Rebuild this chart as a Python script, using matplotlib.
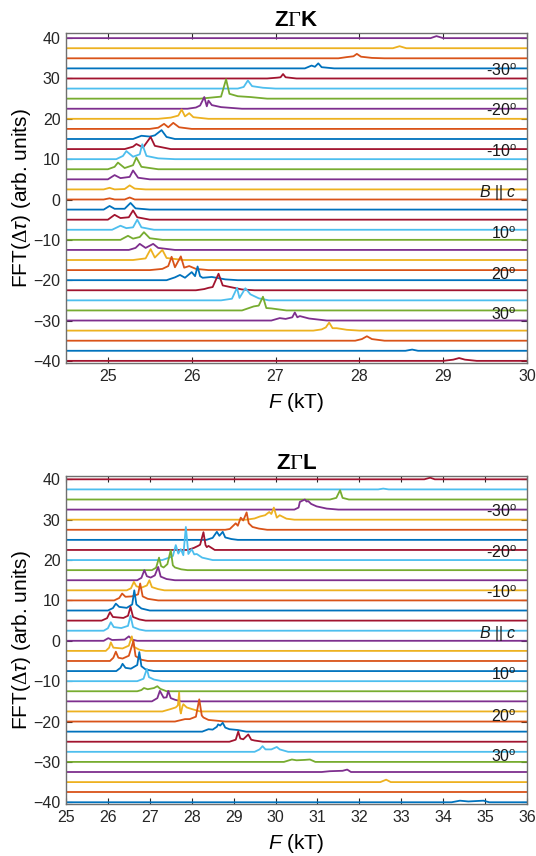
import matplotlib
matplotlib.use("Agg")
import matplotlib.pyplot as plt
import matplotlib.transforms as mtransforms

plt.rcParams['font.family'] = ['Liberation Sans', 'DejaVu Sans']
plt.rcParams['mathtext.fontset'] = 'custom'
plt.rcParams['mathtext.rm'] = 'Liberation Serif'
plt.rcParams['mathtext.it'] = 'Liberation Sans:italic'
plt.rcParams['mathtext.bf'] = 'Liberation Sans:bold'
plt.rcParams['mathtext.sf'] = 'Liberation Sans'

# ---------------- data ----------------
cycle = {'b': '#0072BD', 'o': '#D95319', 'y': '#EDB120', 'p': '#7E2F8E',
         'g': '#77AC30', 'l': '#4DBEEE', 'r': '#A2142F'}

offsets = [40, 37.5, 35, 32.5, 30, 27.5, 25, 22.5, 20, 17.5, 15, 12.5, 10, 7.5, 5, 2.5, 0,
           -2.5, -5, -7.5, -10, -12.5, -15, -17.5, -20, -22.5, -25, -27.5, -30, -32.5, -35, -37.5, -40]

top_colors = ['p', 'y', 'o', 'b', 'r', 'l', 'g', 'p', 'y', 'o', 'b', 'r', 'l', 'g', 'p', 'y', 'o',
              'b', 'r', 'l', 'g', 'p', 'y', 'o', 'b', 'r', 'l', 'g', 'p', 'y', 'o', 'b', 'r']
bot_colors = ['r', 'l', 'g', 'p', 'y', 'o', 'b', 'r', 'l', 'g', 'p', 'y', 'o', 'b', 'r', 'l', 'p',
              'y', 'o', 'b', 'l', 'g', 'p', 'y', 'o', 'b', 'r', 'l', 'g', 'p', 'y', 'o', 'b']

# peak vertices (F in kT, amplitude above each trace's baseline)
top_peaks = {
    40: [(28.85, 0), (28.92, 0.5), (29.0, 0)],
    37.5: [(28.4, 0), (28.48, 0.5), (28.56, 0)],
    35: [(27.75, 0), (27.85, 0.3), (27.93, 0.5), (27.97, 1.1), (28.02, 0.4), (28.15, 0.1), (28.3, 0)],
    32.5: [(27.35, 0), (27.43, 0.7), (27.47, 0.4), (27.51, 1.25), (27.55, 0.3), (27.7, 0)],
    30: [(26.9, 0), (27.02, 0.2), (27.06, 0.3), (27.09, 1.1), (27.12, 0.3), (27.25, 0)],
    27.5: [(26.55, 0), (26.62, 0.4), (26.67, 2.0), (26.72, 0.6), (26.85, 0.2), (27.0, 0)],
    25: [(26.1, 0), (26.25, 0.3), (26.35, 0.5), (26.41, 4.8), (26.45, 1.2), (26.55, 0.6), (26.7, 0.4), (26.9, 0)],
    22.5: [(25.95, 0), (26.05, 0.3), (26.1, 0.8), (26.15, 2.9), (26.18, 0.6), (26.2, 2.0), (26.24, 0.9),
           (26.35, 0.4), (26.6, 0)],
    20: [(25.6, 0), (25.75, 0.3), (25.84, 0.8), (25.88, 2.3), (25.92, 0.6), (25.97, 1.4), (26.02, 0.4), (26.2, 0)],
    17.5: [(25.5, 0), (25.6, 0.3), (25.67, 1.25), (25.72, 0.4), (25.78, 1.5), (25.85, 0.4), (26.0, 0)],
    15: [(25.3, 0), (25.4, 0.8), (25.5, 0.6), (25.56, 0.9), (25.64, 2.2), (25.7, 0.5), (25.8, 0)],
    12.5: [(25.2, 0), (25.3, 0.6), (25.34, 1.25), (25.42, 0.4), (25.51, 3.0), (25.56, 0.8), (25.75, 0)],
    10: [(25.1, 0), (25.18, 0.8), (25.22, 2.0), (25.3, 0.6), (25.38, 1.2), (25.41, 3.7), (25.46, 0.8),
         (25.6, 0.2), (25.8, 0)],
    7.5: [(25.0, 0), (25.08, 0.6), (25.12, 1.65), (25.2, 0.3), (25.3, 1.0), (25.34, 2.9), (25.4, 0.6), (25.6, 0)],
    5: [(25.0, 0), (25.08, 1.05), (25.15, 0.3), (25.26, 0.6), (25.30, 2.2), (25.36, 0.4), (25.5, 0)],
    2.5: [(24.95, 0), (25.02, 0.4), (25.08, 0), (25.2, 0.1), (25.26, 1.0), (25.32, 0.2), (25.45, 0)],
    0: [(24.95, 0), (25.02, 0.3), (25.08, 0), (25.2, 0), (25.26, 0.5), (25.32, 0)],
    -2.5: [(24.95, 0), (25.02, 0.9), (25.08, 0.2), (25.2, 0.2), (25.27, 1.65), (25.33, 0.3), (25.5, 0)],
    -5: [(25.0, 0), (25.08, 1.2), (25.15, 0.4), (25.25, 0.6), (25.30, 2.3), (25.35, 0.6), (25.5, 0)],
    -7.5: [(25.05, 0), (25.15, 1.0), (25.22, 0.4), (25.3, 0.6), (25.35, 2.5), (25.4, 0.6), (25.55, 0)],
    -10: [(25.15, 0), (25.24, 1.0), (25.3, 0.3), (25.38, 0.7), (25.43, 1.9), (25.5, 0.4), (25.65, 0)],
    -12.5: [(25.25, 0), (25.33, 0.5), (25.38, 1.5), (25.45, 0.5), (25.54, 1.5), (25.6, 0.5), (25.8, 0)],
    -15: [(25.3, 0), (25.45, 0.4), (25.51, 2.7), (25.56, 0.6), (25.65, 2.5), (25.7, 0.5), (25.9, 0)],
    -17.5: [(25.5, 0), (25.65, 0.3), (25.72, 1.0), (25.76, 3.3), (25.8, 0.7), (25.87, 3.4), (25.91, 0.6),
            (25.97, 1.0), (26.05, 0.3), (26.2, 0)],
    -20: [(25.7, 0), (25.8, 0.7), (25.86, 1.3), (25.92, 0.6), (26.0, 2.0), (26.04, 1.0), (26.07, 3.4),
          (26.1, 1.0), (26.13, 0.6), (26.24, 0.8), (26.4, 0.2), (26.55, 0)],
    -22.5: [(26.05, 0), (26.15, 0.3), (26.2, 0.6), (26.25, 0.8), (26.32, 4.1), (26.37, 1.2), (26.46, 0.8),
            (26.6, 0.2), (26.75, 0)],
    -25: [(26.35, 0), (26.48, 0.4), (26.54, 3.1), (26.57, 0.6), (26.64, 3.0), (26.7, 1.5), (26.8, 0.5), (26.92, 0)],
    -27.5: [(26.6, 0), (26.74, 1.0), (26.8, 1.2), (26.85, 3.4), (26.89, 0.6), (26.95, 0.5), (27.13, 0)],
    -30: [(26.95, 0), (27.05, 0.6), (27.12, 0.4), (27.2, 0.8), (27.23, 2.0), (27.26, 0.8), (27.29, 1.1),
          (27.4, 0.5), (27.61, 0)],
    -32.5: [(27.45, 0), (27.55, 0.3), (27.6, 0.8), (27.64, 2.0), (27.68, 0.6), (27.73, 0.6), (27.85, 0.2), (28.0, 0)],
    -35: [(27.95, 0), (28.03, 0.4), (28.09, 1.1), (28.15, 0.4), (28.3, 0)],
    -37.5: [(28.55, 0), (28.63, 0.3), (28.7, 0)],
    -40: [(29.0, 0), (29.12, 0.3), (29.19, 0.7), (29.26, 0.3), (29.4, 0)],
}

bot_peaks = {
    40: [(33.55, 0), (33.69, 0.4), (33.8, 0)],
    37.5: [(32.45, 0), (32.57, 0.2), (32.7, 0)],
    35: [(31.3, 0), (31.45, 0.4), (31.54, 2.3), (31.6, 0.4), (31.75, 0)],
    32.5: [(30.45, 0), (30.55, 0.5), (30.58, 1.9), (30.70, 2.5), (30.74, 2.0), (30.78, 2.1), (30.85, 1.4),
           (30.98, 0.8), (31.22, 0.25), (31.5, 0)],
    30: [(29.3, 0), (29.5, 0.3), (29.63, 0.8), (29.75, 1.1), (29.85, 1.9), (29.9, 1.4), (29.96, 3.0),
         (30.03, 0.5), (30.1, 1.1), (30.26, 0.25), (30.45, 0)],
    27.5: [(28.8, 0), (28.91, 0.2), (29.05, 1.6), (29.1, 1.0), (29.17, 3.0), (29.23, 2.3), (29.31, 4.3),
           (29.36, 1.6), (29.45, 0.7), (29.6, 0.3), (29.8, 0)],
    25: [(28.35, 0), (28.5, 0.5), (28.6, 2.0), (28.66, 1.0), (28.74, 2.0), (28.8, 0.6), (28.95, 0.2), (29.1, 0)],
    22.5: [(27.9, 0), (28.05, 0.5), (28.15, 1.0), (28.2, 1.3), (28.28, 4.4), (28.33, 1.2), (28.36, 0.7),
           (28.4, 1.0), (28.55, 0)],
    20: [(27.3, 0), (27.48, 0.66), (27.55, 1.0), (27.62, 3.7), (27.68, 1.6), (27.74, 2.7), (27.8, 1.2),
         (27.86, 8.2), (27.92, 1.5), (28.0, 2.7), (28.06, 1.4), (28.12, 1.5), (28.25, 0.6), (28.5, 0)],
    17.5: [(27.05, 0), (27.15, 0.6), (27.22, 3.1), (27.27, 1.0), (27.33, 0.66), (27.42, 1.5), (27.5, 4.95),
           (27.55, 1.2), (27.6, 0.66), (27.75, 0.2), (27.9, 0)],
    15: [(26.7, 0), (26.8, 0.6), (26.87, 2.5), (26.93, 1.0), (27.02, 0.66), (27.12, 1.2), (27.2, 3.3),
         (27.26, 0.9), (27.4, 0.3), (27.6, 0)],
    12.5: [(26.45, 0), (26.55, 0.5), (26.62, 2.1), (26.68, 1.0), (26.8, 0.66), (26.93, 1.2), (26.99, 2.5),
           (27.05, 0.8), (27.2, 0.3), (27.35, 0)],
    10: [(26.15, 0), (26.27, 0.6), (26.34, 1.7), (26.42, 0.9), (26.57, 1.0), (26.72, 1.5), (26.77, 4.2),
         (26.83, 1.0), (26.95, 0.4), (27.2, 0)],
    7.5: [(26.0, 0), (26.12, 0.6), (26.19, 1.7), (26.27, 0.9), (26.45, 0.66), (26.58, 1.5), (26.63, 5.0),
          (26.68, 1.5), (26.8, 0.5), (27.0, 0)],
    5: [(25.85, 0), (25.98, 0.6), (26.05, 2.1), (26.12, 0.9), (26.37, 0.66), (26.48, 1.2), (26.54, 3.4),
        (26.6, 0.9), (26.75, 0.3), (26.9, 0)],
    2.5: [(25.9, 0), (26.0, 0.6), (26.07, 2.1), (26.14, 0.9), (26.32, 0.66), (26.48, 1.2), (26.54, 3.7),
          (26.6, 0.9), (26.75, 0.3), (26.9, 0)],
    0: [(25.9, 0), (26.01, 0.66), (26.1, 0.2), (26.4, 0.3), (26.5, 1.1), (26.58, 0.3), (26.7, 0)],
    -2.5: [(25.95, 0), (26.03, 0.8), (26.07, 2.1), (26.13, 0.8), (26.35, 0.6), (26.5, 1.3), (26.57, 3.6),
           (26.62, 1.0), (26.75, 0.3), (26.9, 0)],
    -5: [(26.05, 0), (26.13, 0.8), (26.19, 2.3), (26.25, 0.8), (26.35, 0.6), (26.5, 1.3), (26.61, 5.0),
         (26.66, 1.2), (26.8, 0.3), (26.95, 0)],
    -7.5: [(26.2, 0), (26.3, 0.8), (26.35, 1.8), (26.42, 0.8), (26.55, 0.6), (26.7, 1.5), (26.75, 4.7),
           (26.8, 1.2), (26.9, 0.4), (27.1, 0)],
    -10: [(26.7, 0), (26.85, 0.6), (26.93, 3.05), (26.98, 1.0), (27.1, 0.4), (27.3, 0)],
    -12.5: [(26.7, 0), (26.8, 0.3), (26.86, 0.8), (26.95, 0.5), (27.1, 0.8), (27.18, 1.25), (27.25, 0.6), (27.4, 0)],
    -15: [(27.05, 0), (27.18, 0.8), (27.24, 2.6), (27.33, 0.9), (27.4, 1.0), (27.44, 2.6), (27.5, 0.8),
          (27.6, 0.4), (27.75, 0)],
    -17.5: [(27.3, 0), (27.5, 0.6), (27.62, 1.0), (27.67, 1.5), (27.70, 4.7), (27.72, 0.5), (27.74, -0.5),
            (27.78, 1.3), (27.80, 1.8), (27.88, 1.0), (28.0, 0.6), (28.2, 0)],
    -20: [(27.6, 0), (27.84, 0.6), (27.95, 0.6), (28.1, 1.2), (28.18, 5.5), (28.24, 1.5), (28.28, 1.0),
          (28.4, 0.4), (28.6, 0.2), (28.8, 0)],
    -22.5: [(28.25, 0), (28.4, 0.6), (28.5, 0.5), (28.6, 1.2), (28.63, 1.8), (28.68, 1.5), (28.74, 2.2),
            (28.8, 1.0), (28.9, 0.6), (29.1, 0.4), (29.3, 0)],
    -25: [(28.9, 0), (29.05, 0.5), (29.11, 2.5), (29.16, 0.8), (29.23, 0.6), (29.35, 1.8), (29.42, 0.5),
          (29.5, 0.3), (29.7, 0)],
    -27.5: [(29.5, 0), (29.62, 0.6), (29.69, 1.4), (29.76, 0.6), (29.9, 0.6), (30.03, 1.2), (30.1, 0.6), (30.3, 0)],
    -30: [(30.2, 0), (30.39, 0.6), (30.5, 0.4), (30.7, 0.5), (30.82, 0.6), (30.95, 0)],
    -32.5: [(31.1, 0), (31.3, 0.2), (31.6, 0.3), (31.71, 0.6), (31.8, 0)],
    -35: [(32.5, 0), (32.64, 0.6), (32.75, 0)],
    -37.5: [],
    -40: [(34.2, 0), (34.4, 0.4), (34.6, 0.2), (34.96, 0.4), (35.1, 0)],
}

angle_labels = ['-30$^{\\mathsf{o}}$', '-20$^{\\mathsf{o}}$', '-10$^{\\mathsf{o}}$', '$B$ || $c$',
                '10$^{\\mathsf{o}}$', '20$^{\\mathsf{o}}$', '30$^{\\mathsf{o}}$']
angle_label_y = [30.6, 20.6, 10.5, 0.6, -9.7, -20.0, -29.9]

panels = [
    dict(title='$\\mathbf{Z}\\mathrm{\\Gamma}\\mathbf{K}$', xlim=(24.5, 30), xticks=[25, 26, 27, 28, 29, 30],
         ylim=(-40.6, 41.2), colors=top_colors, peaks=top_peaks,
         rect=[0.1231, 0.5756, 0.8601, 0.3855]),
    dict(title='$\\mathbf{Z}\\mathrm{\\Gamma}\\mathbf{L}$', xlim=(25, 36), xticks=list(range(25, 37)),
         ylim=(-40.5, 40.9), colors=bot_colors, peaks=bot_peaks,
         rect=[0.1231, 0.0604, 0.8601, 0.3839]),
]

# ---------------- figure ----------------
fig = plt.figure(figsize=(5.36, 8.56), dpi=100)
axis_gray = '#262626'

for p in panels:
    ax = fig.add_axes(p['rect'])
    x0, x1 = p['xlim']
    for off, cname in zip(offsets, p['colors']):
        verts = p['peaks'][off]
        xs = [x0] + [v[0] for v in verts] + [x1]
        ys = [off] + [off + v[1] for v in verts] + [off]
        ax.plot(xs, ys, color=cycle[cname], lw=1.3, solid_joinstyle='round')
    ax.set_xlim(x0, x1)
    ax.set_ylim(*p['ylim'])
    ax.set_xticks(p['xticks'])
    ax.set_yticks([-40, -30, -20, -10, 0, 10, 20, 30, 40])
    ax.tick_params(direction='in', length=4, width=0.8, top=True, right=True,
                   labelsize=11.5, colors=axis_gray, pad=4)
    for s in ax.spines.values():
        s.set_color('#6f6f6f')
        s.set_linewidth(1.0)
    ax.set_title(p['title'], fontsize=16, pad=5)
    ax.set_xlabel('$F$ (kT)', fontsize=15, labelpad=5)
    ax.set_ylabel('FFT($\\Delta\\tau$) (arb. units)', fontsize=15, labelpad=0)
    trans = mtransforms.blended_transform_factory(ax.transAxes, ax.transData)
    for lab, ly in zip(angle_labels, angle_label_y):
        ax.text(0.978, ly, lab, transform=trans, ha='right', va='baseline', fontsize=11.5, color='#1a1a1a')

fig.savefig('out.png', dpi=100)
